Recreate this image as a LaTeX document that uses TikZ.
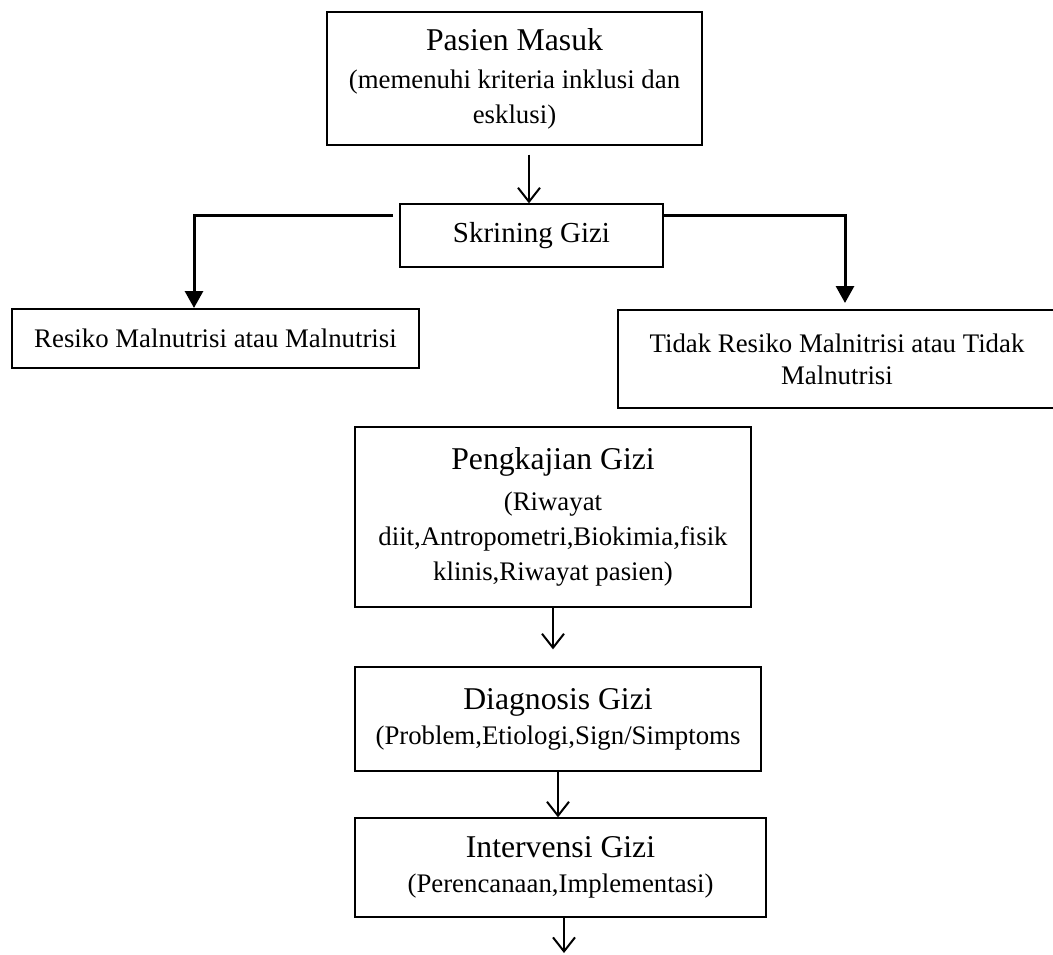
\documentclass[tikz,border=0pt]{standalone}
\usepackage{fontspec}
\setmainfont{Liberation Serif}
\usetikzlibrary{arrows.meta}
\newcommand\mysub{\fontsize{26.8}{35}\selectfont}
\newcommand\mytitle{\fontsize{31.7}{35}\selectfont}
\newcommand\myskr{\fontsize{29}{35}\selectfont}
\begin{document}
\begin{tikzpicture}[x=1pt,y=-1pt,
  box/.style={draw, line width=1.3pt, align=center, inner sep=0pt, font=\mysub},
  varrow/.style={line width=2pt, -{Straight Barb[length=14pt,width=22pt,line width=2pt]}},
  branch/.style={line width=3pt, -{Triangle[length=17pt,width=18pt]}}]
\useasboundingbox (0,0) rectangle (1053,954);

\node[box, minimum width=375pt, minimum height=133pt] (pasien) at (514.5,78.5)
  {{\mytitle Pasien Masuk}\\[3pt] (memenuhi kriteria inklusi dan\\ esklusi)};
\node[box, font=\myskr, minimum width=263pt, minimum height=63pt] (skr) at (531.5,235.5) {Skrining Gizi};
\node[box, minimum width=407pt, minimum height=59pt] (res) at (215.5,338.5) {Resiko Malnutrisi atau Malnutrisi};
\node[box, minimum width=438pt, minimum height=98pt] (tdk) at (837,359)
  {Tidak Resiko Malnitrisi atau Tidak\\[-3pt] Malnutrisi};
\node[box, minimum width=396pt, minimum height=180pt] (peng) at (553,517)
  {{\mytitle Pengkajian Gizi}\\[6pt] (Riwayat\\ diit,Antropometri,Biokimia,fisik\\ klinis,Riwayat pasien)};
\node[box, minimum width=406pt, minimum height=104pt] (diag) at (558,719)
  {{\mytitle Diagnosis Gizi}\\ (Problem,Etiologi,Sign/Simptoms};
\node[box, minimum width=411pt, minimum height=99pt] (intv) at (560.5,867.5)
  {{\mytitle Intervensi Gizi}\\ (Perencanaan,Implementasi)};

\coordinate (sl) at (393,215);
\coordinate (sr) at (663,215);
\coordinate (rl) at (194,308);
\coordinate (rr) at (845,303);
\coordinate (endp) at (564,953);

\draw[varrow] ([xshift=-2.5pt,yshift=-9pt]skr.north |- pasien.south) -- ([xshift=-2.5pt]skr.north);
\draw[branch] (sl) -| (rl);
\draw[branch] (sr) -| (rr);
\draw[varrow] (peng.south) -- ([yshift=17pt]diag.north -| peng.south);
\draw[varrow] (diag.south) -- (diag.south |- intv.north);
\draw[varrow] (endp |- intv.south) -- (endp);
\end{tikzpicture}
\end{document}
